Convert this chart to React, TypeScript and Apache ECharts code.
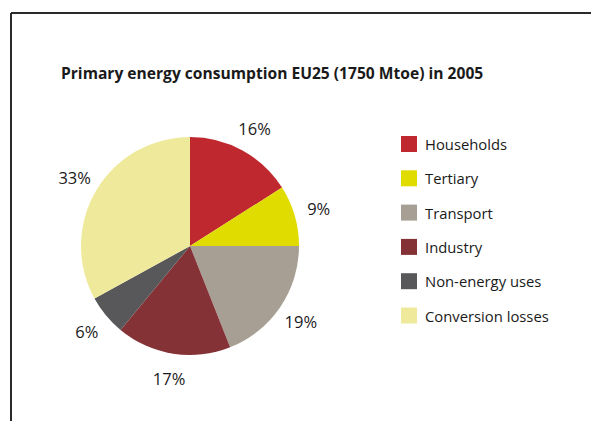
import React, { useEffect, useRef } from "react";
import * as echarts from "echarts";

const categories = ["Households", "Tertiary", "Transport", "Industry", "Non-energy uses", "Conversion losses"];
const shares = [16, 9, 19, 17, 6, 33];
const colors = ["#c0282f", "#e0dc00", "#a89f94", "#843235", "#58585a", "#efea9b"];
const title = "Primary energy consumption EU25 (1750 Mtoe) in 2005";

const FONT = "'Open Sans', 'Noto Sans', sans-serif";

export default function App() {
  const ref = useRef<HTMLDivElement>(null);
  useEffect(() => {
    if (!ref.current) return;
    const chart = echarts.init(ref.current, undefined, { renderer: "svg" });
    const data = categories.map((name, i) => ({ name, value: shares[i] }));
    chart.setOption({
      animation: false,
      backgroundColor: "#ffffff",
      title: {
        text: title,
        left: 56,
        top: 60,
        textStyle: { fontFamily: FONT, fontSize: 15.6, fontWeight: "bold", color: "#1a1a1a" },
      },
      legend: {
        orient: "vertical",
        left: 396,
        top: 131,
        itemWidth: 16,
        itemHeight: 16,
        itemGap: 18.3,
        icon: "rect",
        data: categories,
        textStyle: { fontFamily: FONT, fontSize: 14.8, color: "#1a1a1a", lineHeight: 16, padding: [0, 0, 0, 3] },
      },
      graphic: [
        { type: "line", shape: { x1: 11, y1: 13, x2: 591, y2: 13 }, style: { stroke: "#2a2a2a", lineWidth: 2 } },
        { type: "line", shape: { x1: 11, y1: 13, x2: 11, y2: 421 }, style: { stroke: "#2a2a2a", lineWidth: 2 } },
      ],
      series: [
        {
          type: "pie",
          center: [190, 246],
          radius: 109,
          startAngle: 90,
          clockwise: true,
          color: colors,
          label: { show: false },
          labelLine: { show: false },
          itemStyle: { borderWidth: 0 },
          data,
        },
        {
          type: "pie",
          center: [190, 246],
          radius: [120, 142],
          startAngle: 90,
          clockwise: true,
          silent: true,
          color: colors,
          itemStyle: { opacity: 0 },
          label: {
            show: true,
            position: "inside",
            formatter: "{c}%",
            fontFamily: FONT,
            fontSize: 16.5,
            color: "#1a1a1a",
            opacity: 1,
          },
          labelLine: { show: false },
          data,
        },
      ],
    });
    return () => chart.dispose();
  }, []);
  return <div ref={ref} style={{ position: "fixed", left: 0, top: 0, width: 591, height: 421 }} />;
}
